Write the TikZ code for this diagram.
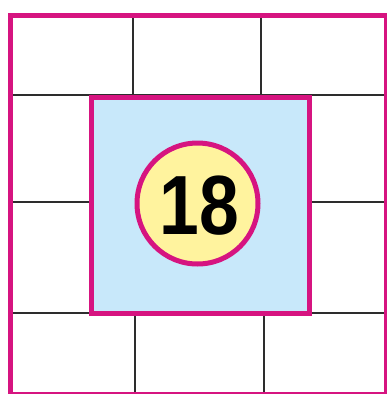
\documentclass[tikz,border=0pt]{standalone}
\usepackage{fontspec}
\newfontfamily\cifre{Liberation Sans}
\definecolor{magenta18}{RGB}{214,20,128}
\definecolor{azzurro}{RGB}{200,232,250}
\definecolor{giallo}{RGB}{255,243,158}
\definecolor{grigio}{RGB}{45,45,45}
\tikzset{
  bordo/.style={draw=magenta18,line width=5pt},
  linea/.style={draw=grigio,line width=2pt}
}
\begin{document}
\begin{tikzpicture}[x=1pt,y=-1pt]
        \useasboundingbox(0,0)rectangle(386,394);
        %sfondo
        \fill[white](0,0)rectangle(386,394);
        %disegno griglia
        \draw[linea](133,15)--(133,95) (261,15)--(261,95);
        \draw[linea](135,313)--(135,394) (264,313)--(264,394);
        \draw[linea](10,95)--(386,95) (10,202)--(386,202) (10,313)--(386,313);
        %cornice esterna
        \draw[bordo](10.5,15)rectangle(386,394);
        %quadrato centrale
        \node[bordo,fill=azzurro,minimum width=217.5pt,minimum height=216pt,
              inner sep=0pt](quadrato) at (200.25,205){};
        %cerchio con numero
        \node[bordo,fill=giallo,circle,minimum size=121pt,inner sep=0pt](numero)
              at (197.5,203.5){};
        \node[font=\cifre\bfseries\fontsize{84}{84}\selectfont,xscale=0.85,
              inner sep=0pt](testo) at (199.5,206){18};
    \end{tikzpicture}
\end{document}
